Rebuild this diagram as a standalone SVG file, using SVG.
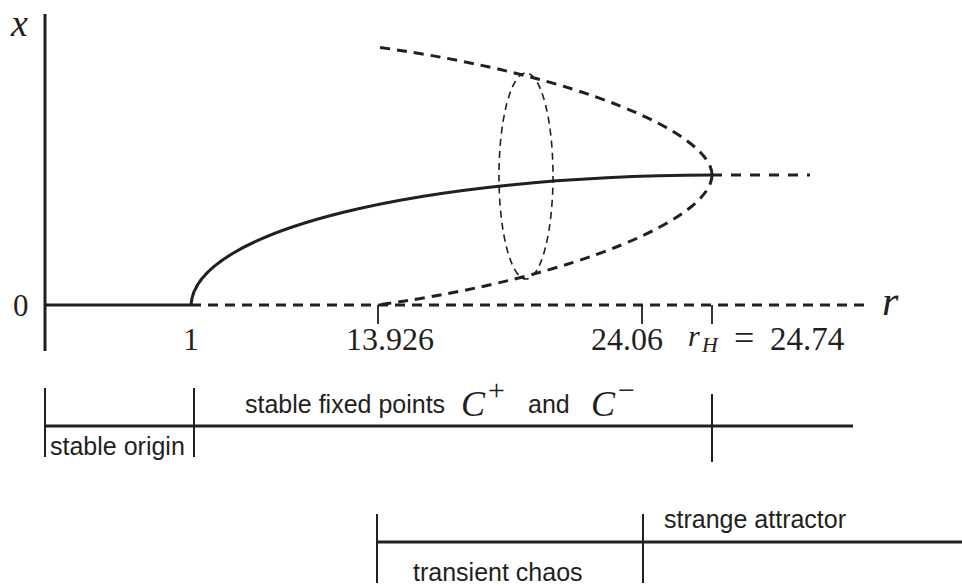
<svg xmlns="http://www.w3.org/2000/svg" width="962" height="587" viewBox="0 0 962 587">
<style>
  .ax{stroke:#231f20;stroke-width:3;fill:none}
  .sol{stroke:#231f20;stroke-width:3;fill:none}
  .dsh{stroke:#231f20;stroke-width:3;fill:none;stroke-dasharray:10 7}
  .ell{stroke:#231f20;stroke-width:1.6;fill:none;stroke-dasharray:7 5}
  .tk{stroke:#231f20;stroke-width:1.8;fill:none}
  .rg{stroke:#231f20;stroke-width:3;fill:none}
  .rt{stroke:#231f20;stroke-width:2;fill:none}
  .m{font-family:"Liberation Serif",serif;font-style:italic;fill:#231f20}
  .n{font-family:"Liberation Serif",serif;fill:#231f20}
  .s{font-family:"Liberation Sans",Arial,sans-serif;font-size:25px;fill:#231f20}
</style>
<rect width="962" height="587" fill="#fff"/>
<g id="axes">
  <line class="ax" x1="45" y1="14" x2="45" y2="351"/>
  <line class="ax" x1="45" y1="305" x2="191" y2="305"/>
  <line class="dsh" x1="191" y1="305" x2="870" y2="305"/>
  <line class="tk" x1="378" y1="305" x2="378" y2="324"/>
  <line class="tk" x1="642" y1="305" x2="642" y2="324"/>
  <line class="tk" x1="712" y1="305" x2="712" y2="324"/>
  <text class="m" x="11" y="36" font-size="38">x</text>
  <text class="m" x="882" y="315" font-size="42">r</text>
  <text class="n" x="13" y="316" font-size="31">0</text>
  <text class="n" x="191" y="350" font-size="31" text-anchor="middle">1</text>
  <text class="n" x="390" y="350" font-size="32" text-anchor="middle">13.926</text>
  <text class="n" x="627" y="350" font-size="32" text-anchor="middle">24.06</text>
  <text class="m" x="688" y="346" font-size="30">r</text>
  <text class="m" x="702" y="352" font-size="22">H</text>
  <text class="n" x="734" y="350" font-size="36">=</text>
  <text class="n" x="770" y="350" font-size="33">24.74</text>
</g>
<g id="connectors">
  <path id="stable-branch" class="sol" d="M191,305 C195,230 420,176 712,175"/>
  <path id="upper-unstable" class="dsh" d="M712,175 C712,134 580,75 377,47"/>
  <path id="lower-unstable" class="dsh" d="M712,175 C712,217 580,277 378,305"/>
  <line class="dsh" x1="712" y1="175" x2="810" y2="175" style="stroke-dasharray:10 9"/>
  <ellipse class="ell" cx="526" cy="176" rx="27" ry="103"/>
</g>
<g id="regions-top">
  <line class="rg" x1="45" y1="426" x2="853" y2="426"/>
  <line class="rt" x1="45" y1="388" x2="45" y2="457"/>
  <line class="rt" x1="194" y1="388" x2="194" y2="457"/>
  <line class="rt" x1="712" y1="394" x2="712" y2="462"/>
  <text class="s" x="50" y="455">stable origin</text>
  <text class="s" x="245" y="413">stable fixed points</text>
  <text class="m" x="461" y="416" font-size="36">C</text>
  <text class="n" x="488" y="400" font-size="30">+</text>
  <text class="s" x="528" y="413">and</text>
  <text class="m" x="591" y="416" font-size="36">C</text>
  <text class="n" x="618" y="400" font-size="30">−</text>
</g>
<g id="regions-bottom">
  <line class="rg" x1="377" y1="542" x2="962" y2="542"/>
  <line class="rt" x1="377" y1="514" x2="377" y2="583"/>
  <line class="rt" x1="643" y1="514" x2="643" y2="583"/>
  <text class="s" x="664" y="528">strange attractor</text>
  <text class="s" x="413" y="581">transient chaos</text>
</g>
</svg>
